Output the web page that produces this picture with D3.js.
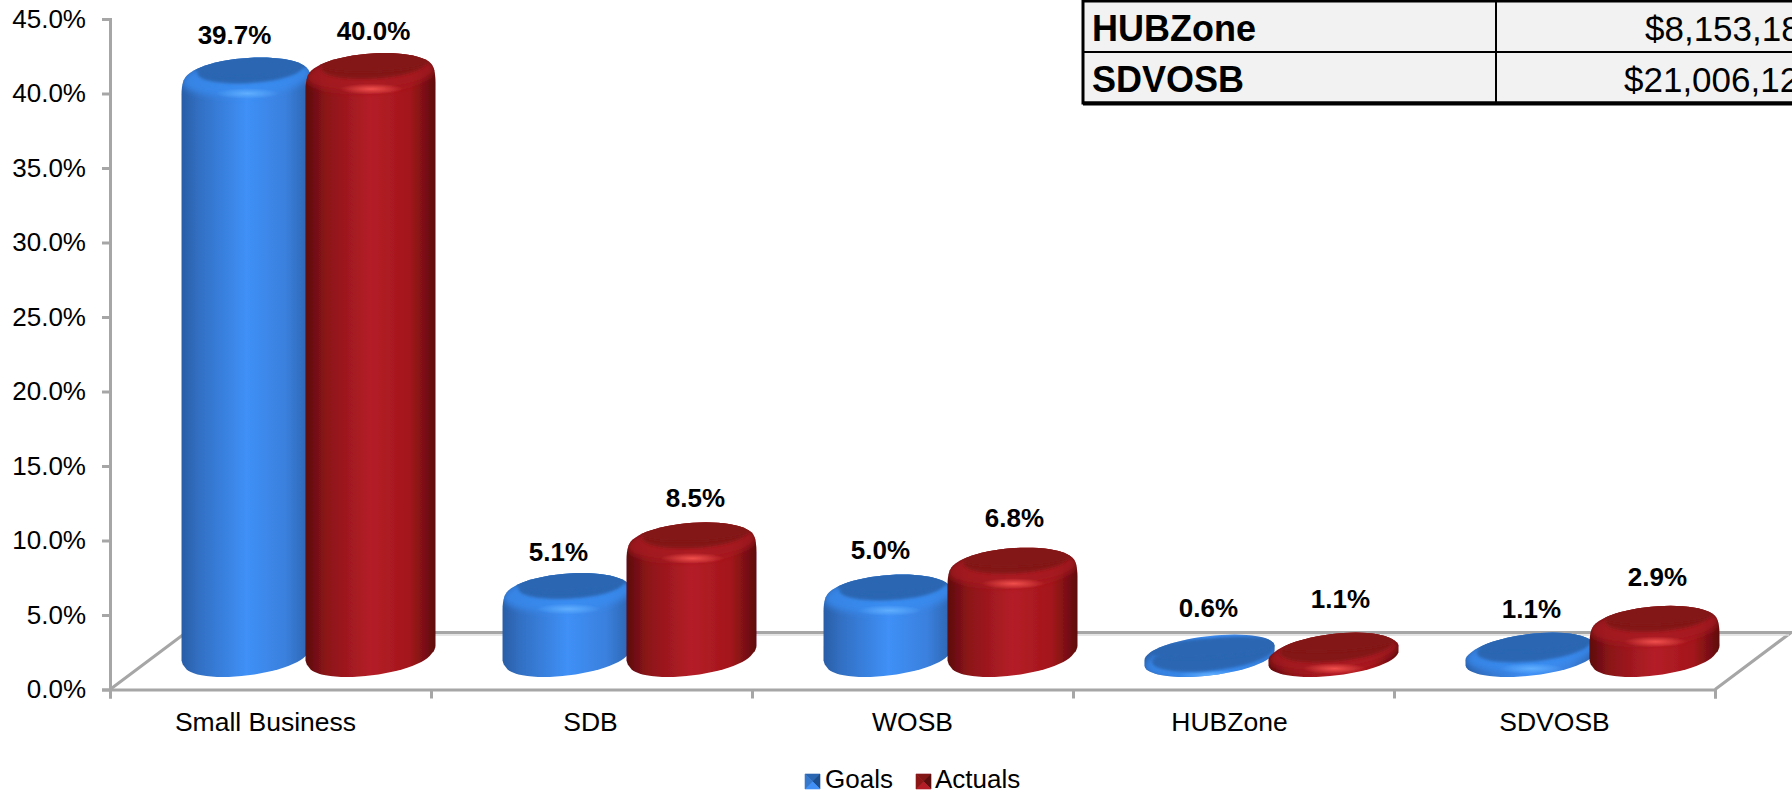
<!DOCTYPE html>
<html lang="en">
<head>
<meta charset="UTF-8">
<title>Goals and Actuals</title>
<script src="https://d3js.org/d3.v7.min.js"></script>
<style>
  html, body { margin: 0; padding: 0; background: #fff; overflow: hidden; }
  svg { display: block; }
  text { font-family: "Liberation Sans", Arial, sans-serif; fill: #000; }
  .axis path, .axis line { stroke: #a6a6a6; stroke-width: 3px; }
  .axis text { font-family: "Liberation Sans", Arial, sans-serif; font-size: 26px; fill: #000; }
  .cat text { font-size: 26.5px; }
</style>
</head>
<body>
<div id="chart"></div>
<script>
  // data
  const categories = ["Small Business", "SDB", "WOSB", "HUBZone", "SDVOSB"];
  const seriesNames = ["Goals", "Actuals"];
  const goals = [39.7, 5.1, 5.0, 0.6, 1.1];
  const actuals = [40.0, 8.5, 6.8, 1.1, 2.9];
  const yTicks = [0, 5, 10, 15, 20, 25, 30, 35, 40, 45];
  const tableNames = ["HUBZone", "SDVOSB"];
  const tableAmounts = ["$8,153,18", "$21,006,12"];

  // hand placed labels in the original, nudges from the default spot
  const labelNudgeX = [[-12, -9, -8, -1, 1], [3, 4, 2, 7, 3]];
  const labelNudgeY = [[-23, -21, -25, -31, -24], [-22, -25, -30, -34, -29]];
  const catNudgeX = [-5, -1, 0, -4, 0];

  const W = 1792, H = 793;
  const margin = {left: 110, right: 77, top: 19, bottom: 103.5};
  const depthX = 76, depthY = 57;   // floor depth

  const svg = d3.select("#chart").append("svg").attr("width", W).attr("height", H);
  const defs = svg.append("defs");

  const y = d3.scaleLinear().domain([0, 45]).range([H - margin.bottom, margin.top]);
  const x0 = d3.scaleBand().domain(categories).range([margin.left, W - margin.right]);
  const x1 = d3.scaleBand().domain(seriesNames).range([-124, 124]);

  const palette = {
    Goals: {
      cap: "#2b66b2", rim: "#3a8cf0", hot: "#62b0ff",
      stops: [[0, "#2a5ea6"], [.14, "#3270c4"], [.5, "#3f90f7"], [.8, "#3a80dd"], [1, "#2c62ac"]],
      swatch: ["#2b66b2", "#1f4f8f", "#3f90f7", "#3678cc"]
    },
    Actuals: {
      cap: "#831315", rim: "#a8181e", hot: "#f4524e",
      stops: [[0, "#5c0c0e"], [.16, "#8c1418"], [.5, "#b41e27"], [.8, "#a3161b"], [1, "#5e0c0e"]],
      swatch: ["#831315", "#5c0c0e", "#b41e27", "#8c1418"]
    }
  };

  seriesNames.forEach(name => {
    const g = defs.append("linearGradient").attr("id", "body-" + name);
    palette[name].stops.forEach(s => g.append("stop").attr("offset", s[0]).attr("stop-color", s[1]));
    const r = defs.append("radialGradient").attr("id", "hot-" + name);
    r.append("stop").attr("offset", 0).attr("stop-color", palette[name].hot).attr("stop-opacity", .95);
    r.append("stop").attr("offset", 1).attr("stop-color", palette[name].hot).attr("stop-opacity", 0);
  });
  defs.append("filter").attr("id", "soft").append("feGaussianBlur").attr("stdDeviation", 1.6);
  defs.append("filter").attr("id", "softer")
    .attr("x", "-10%").attr("y", "-20%").attr("width", "120%").attr("height", "140%")
    .append("feGaussianBlur").attr("stdDeviation", 3);
  defs.append("filter").attr("id", "edge").append("feGaussianBlur").attr("stdDeviation", .5);

  // floor
  const x0L = margin.left, x0R = W - margin.right, yFloor = y(0);
  const floor = svg.append("g").attr("fill", "none");
  floor.append("path")
    .attr("d", `M${x0L},${yFloor}L${x0L + depthX},${yFloor - depthY}L${x0R + depthX},${yFloor - depthY}L${x0R},${yFloor}`)
    .attr("stroke", "#a6a6a6").attr("stroke-width", 3);
  floor.append("line")
    .attr("x1", x0L + depthX).attr("x2", x0R + depthX - 2)
    .attr("y1", yFloor - depthY + 2.5).attr("y2", yFloor - depthY + 2.5)
    .attr("stroke", "#dcdcdc").attr("stroke-width", 1.5);

  // axes
  const yAxis = d3.axisLeft(y).tickValues(yTicks).tickSize(8).tickPadding(16)
    .tickFormat(d => d3.format(".1f")(d) + "%");
  svg.append("g").attr("class", "axis").attr("transform", `translate(${margin.left},0)`).call(yAxis);

  // band edges carry the ticks, the labels sit in the band centres
  const xEdge = d3.scaleLinear().domain([0, categories.length]).range([x0L, x0R]);
  svg.append("g").attr("class", "axis").attr("transform", `translate(0,${yFloor})`)
    .call(d3.axisBottom(xEdge).tickValues(d3.range(categories.length + 1)).tickSize(9).tickFormat(""));
  svg.append("g").attr("class", "axis cat").attr("transform", `translate(0,${yFloor})`)
    .call(d3.axisBottom(x0).tickSize(0).tickPadding(23))
    .call(g => g.select(".domain").remove())
    .call(g => g.selectAll("text").attr("dx", (d, i) => catNudgeX[i]));

  // circle lying on the floor, seen in about the same projection as the floor
  const halfW = 65, ringB = 19;
  function ring(cx, cy, sx, sy, dx) {
    const a = Math.sqrt(halfW * halfW - dx * dx);
    return d3.range(61).map(i => {
      const t = Math.PI * 2 * i / 60;
      return [cx + sx * (a * Math.cos(t) + dx * Math.sin(t)), cy - sy * ringB * Math.sin(t)];
    });
  }
  const closed = d3.line().curve(d3.curveLinearClosed);

  const baseCy = y(0) - 31.5;
  const labels = [];

  // draw cylinders left to right, red over blue
  const bars = svg.append("g");
  categories.forEach((cat, i) => {
    [goals, actuals].forEach((vals, s) => {
      const name = seriesNames[s], col = palette[name];
      const cx = x0(cat) + x0.bandwidth() / 2 + depthX / 2 + x1(name) + x1.bandwidth() / 2;
      const topCy = Math.min(baseCy, y(vals[i]) - 21.5);
      const h = baseCy - topCy;
      const bevel = Math.min(14, h);
      const rim = Math.min(12, 5 + h * .5);
      const tilt = 25 - Math.min(h, 40) / 4;   // tall bars have rounder looking tops
      const id = "clip-" + i + "-" + s;

      // rounded shoulder and foot, stacked rings then the hull of them
      let pts = [...ring(cx, baseCy, .95, 1, 25), ...ring(cx, baseCy - 3, .99, .98, 25), ...ring(cx, baseCy - 5, 1, .97, 25)];
      d3.range(7).forEach(k => {
        const a = k / 6 * Math.PI / 2;
        pts = pts.concat(ring(cx, topCy + bevel * (1 - Math.cos(a)), 1 - .05 * (1 - Math.sin(a)), 1, tilt));
      });
      const hull = d3.polygonHull(pts);
      defs.append("clipPath").attr("id", id).append("path").attr("d", closed(hull));

      const g = bars.append("g");
      g.append("path").attr("d", closed(hull)).attr("fill", `url(#body-${name})`).attr("filter", "url(#edge)");

      const inner = g.append("g").attr("clip-path", `url(#${id})`);
      // lit shoulder
      inner.append("path")
        .attr("d", closed(ring(cx, topCy + 1, 1, 1, tilt)))
        .attr("fill", col.rim).attr("fill-opacity", .8).attr("filter", "url(#softer)");
      inner.append("ellipse")
        .attr("cx", cx + 1).attr("cy", topCy + ringB - 2)
        .attr("rx", 32).attr("ry", 5.5).attr("fill", `url(#hot-${name})`);
      // flat top, touches the back edge of the cylinder
      const capSy = (2 * ringB - rim) / (2 * ringB);
      const capSx = .8 + .13 * (12 - rim) / 7;
      inner.append("path")
        .attr("d", closed(ring(cx + 3, topCy - ringB + capSy * ringB, capSx, capSy, tilt)))
        .attr("fill", col.cap).attr("filter", "url(#soft)");
      // top of the cap runs out to the back edge
      inner.append("path")
        .attr("d", closed(ring(cx + 5, topCy - ringB + .5 * ringB - 1, capSx + .08, .55, tilt)))
        .attr("fill", col.cap).attr("filter", "url(#soft)");

      labels.push({
        x: cx + labelNudgeX[s][i],
        y: topCy - ringB + labelNudgeY[s][i],
        text: d3.format(".1f")(vals[i]) + "%"
      });
    });
  });

  svg.append("g").selectAll("text").data(labels).join("text")
    .attr("x", d => d.x).attr("y", d => d.y).attr("dy", ".36em")
    .attr("text-anchor", "middle").attr("font-size", 26).attr("font-weight", "bold")
    .text(d => d.text);

  // legend
  const legendX = [805, 916], legendY = 774, sw = 15;
  seriesNames.forEach((name, s) => {
    const lx = legendX[s];
    const m = [lx + sw / 2, legendY + sw / 2];
    const c = [[lx, legendY], [lx + sw, legendY], [lx + sw, legendY + sw], [lx, legendY + sw]];
    // top, right, bottom, left
    const swatch = svg.append("g").attr("filter", "url(#edge)");
    palette[name].swatch.forEach((f, k) => {
      swatch.append("path")
        .attr("d", closed([c[k], c[(k + 1) % 4], m]))
        .attr("fill", f).attr("stroke", f).attr("stroke-width", .6);
    });
    svg.append("text").attr("x", lx + sw + (s ? 4 : 5)).attr("y", 787.5)
      .attr("font-size", 26).text(name);
  });

  // table fragment in the top right corner, runs off the page
  const table = svg.append("g");
  const rowY = [1, 52, 103], tLeft = 1083, tMid = 1496;
  table.append("rect").attr("x", tLeft).attr("y", rowY[0]).attr("width", W - tLeft + 10).attr("height", rowY[2] - rowY[0])
    .attr("fill", "#f2f2f2");
  table.append("path").attr("d", `M${W + 5},${rowY[0]}H${tLeft}V${rowY[2]}H${W + 5}`)
    .attr("fill", "none").attr("stroke", "#000").attr("stroke-width", 3);
  table.append("line").attr("x1", tLeft).attr("x2", W + 5).attr("y1", rowY[2] + .5).attr("y2", rowY[2] + .5)
    .attr("stroke", "#000").attr("stroke-width", 4);
  table.append("line").attr("x1", tLeft).attr("x2", W + 5).attr("y1", rowY[1]).attr("y2", rowY[1])
    .attr("stroke", "#000").attr("stroke-width", 2);
  table.append("line").attr("x1", tMid).attr("x2", tMid).attr("y1", rowY[0]).attr("y2", rowY[2])
    .attr("stroke", "#000").attr("stroke-width", 2);
  const baselines = [41, 92], amountX = [1645, 1624];
  tableNames.forEach((t, i) => {
    table.append("text").attr("x", 1092).attr("y", baselines[i])
      .attr("font-size", 36).attr("font-weight", "bold").text(t);
    table.append("text").attr("x", amountX[i]).attr("y", baselines[i])
      .attr("font-size", 35).text(tableAmounts[i]);
  });
</script>
</body>
</html>
